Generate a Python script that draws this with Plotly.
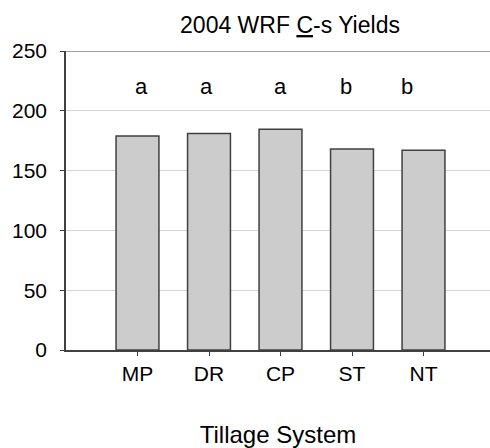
import plotly.graph_objects as go

categories = ["MP", "DR", "CP", "ST", "NT"]
yields = [179, 181, 184.5, 168, 167]
letters = ["a", "a", "a", "b", "b"]
letter_level = [220, 220, 220, 220, 220]
letter_xshift = [4, -3, 0, -6, -17]
y_ticks = [0, 50, 100, 150, 200, 250]

FONT = "Liberation Sans, Arial, sans-serif"

fig = go.Figure()
fig.add_trace(go.Bar(
    x=list(range(len(categories))), y=yields,
    marker=dict(color="#cccccc", line=dict(color="#404040", width=1.5)),
    width=0.6, showlegend=False, hoverinfo="skip",
))

for i, (t, lv, xs) in enumerate(zip(letters, letter_level, letter_xshift)):
    fig.add_annotation(x=i, y=lv, text=t, showarrow=False, xshift=xs,
                       font=dict(family=FONT, size=22, color="black"))

fig.add_shape(type="line", xref="paper", yref="y", x0=0, x1=1,
              y0=max(y_ticks), y1=max(y_ticks),
              line=dict(color="#808080", width=1.5))

fig.update_layout(
    width=490, height=448,
    margin=dict(l=66, r=0, t=51, b=98),
    plot_bgcolor="white", paper_bgcolor="white",
    font=dict(family=FONT, size=21, color="black"),
    title=dict(text='2004 WRF <span style="text-decoration:underline">C</span>-s Yields',
               x=290/490, xanchor="center", xref="container",
               y=1-25/448, yanchor="middle", yref="container",
               font=dict(family=FONT, size=23, color="black")),
    xaxis=dict(
        tickmode="array", tickvals=list(range(len(categories))), ticktext=categories,
        range=[-1.0, 4.93], showgrid=False, zeroline=False,
        showline=True, linecolor="#404040", linewidth=1.5,
        ticks="outside", ticklen=4, tickcolor="#404040",
        tickfont=dict(family=FONT, size=21),
        title=dict(text="Tillage System", standoff=43,
                   font=dict(family=FONT, size=24)),
    ),
    yaxis=dict(
        range=[0, 250], tickvals=y_ticks,
        showgrid=True, gridcolor="#d4d4d4", gridwidth=1,
        zeroline=False, showline=True, linecolor="#404040", linewidth=1.5,
        ticks="outside", ticklen=4, tickcolor="#404040",
        tickfont=dict(family=FONT, size=21),
        ticklabelstandoff=9,
    ),
)

fig.write_html("out.html", config={"displayModeBar": False},
               post_script="document.body.style.margin='0';document.body.style.overflow='hidden';")
